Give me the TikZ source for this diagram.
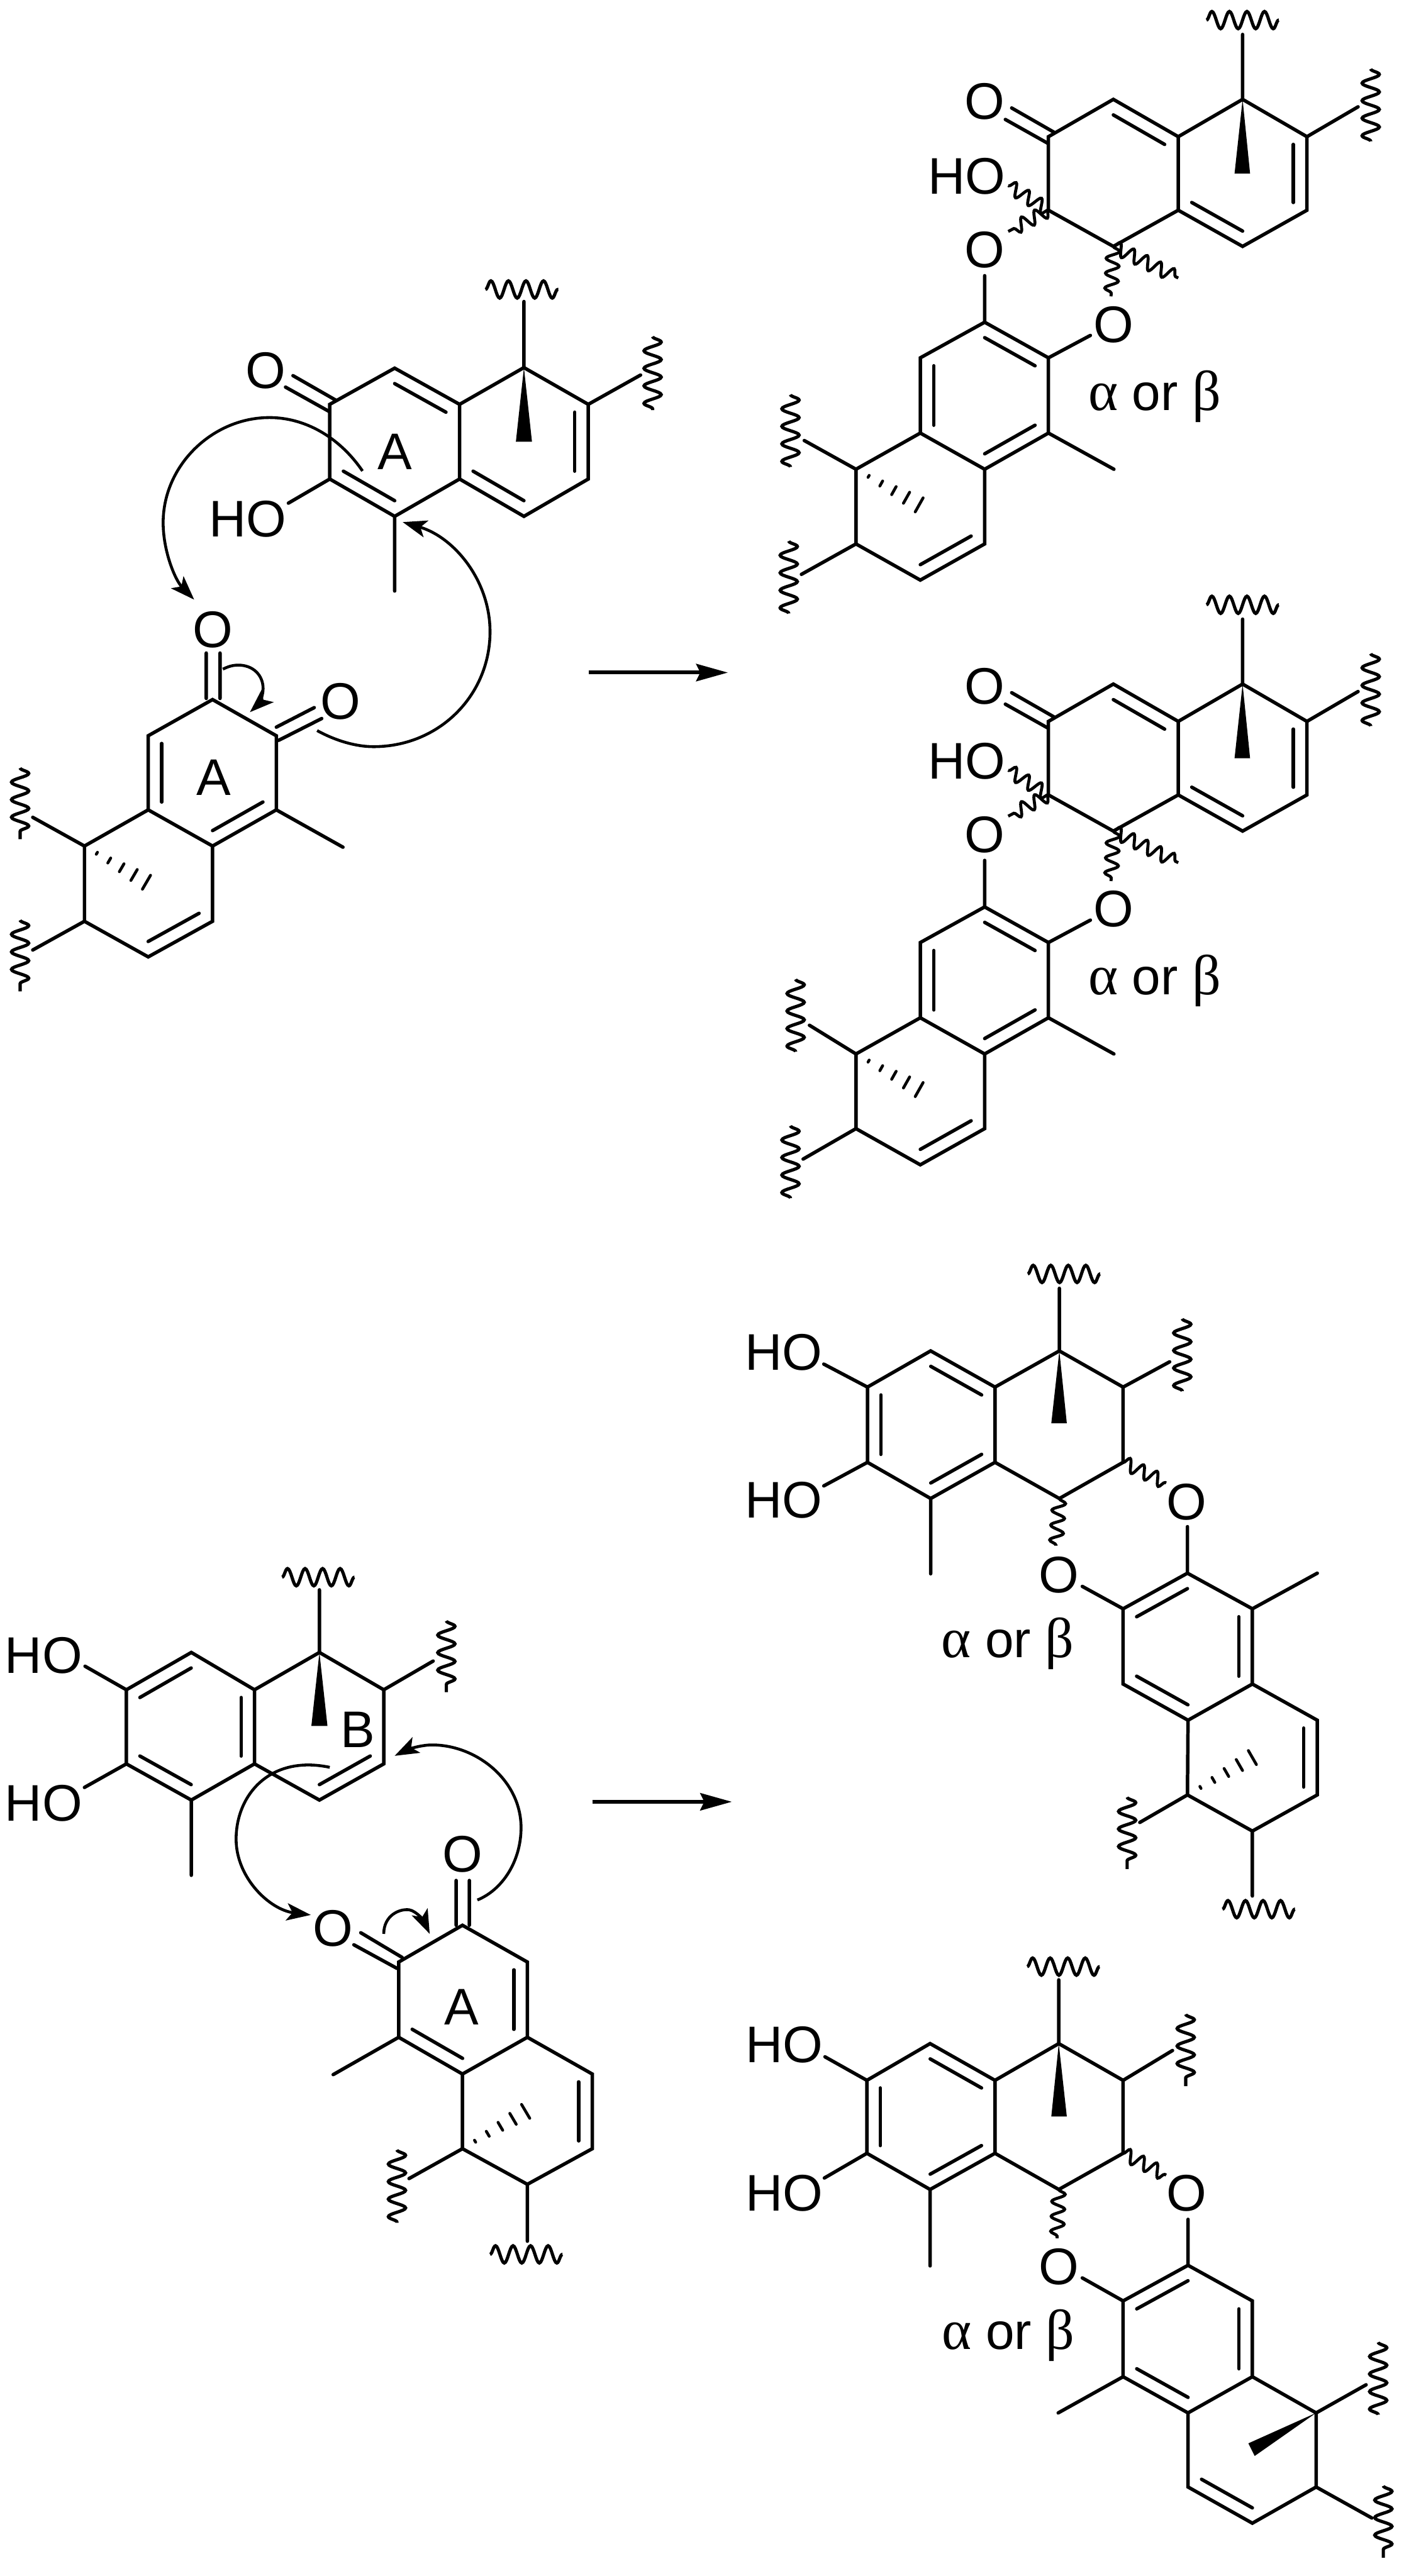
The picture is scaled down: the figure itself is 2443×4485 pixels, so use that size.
\documentclass[tikz,border=0pt]{standalone}
\usepackage{fontspec}
\setmainfont{Liberation Sans}
\newfontfamily\greekfont{Liberation Serif}
\usetikzlibrary{calc,arrows.meta,decorations.pathmorphing}
\tikzset{
  bond/.style={line width=0.06cm,line cap=round,line join=miter},
  atom/.style={inner sep=0pt,font=\fontsize{25.5}{30}\selectfont},
  wavy/.style={line width=0.056cm,decorate,decoration={snake,segment length=0.305cm,amplitude=0.15cm}},
  shortwavy/.style={line width=0.052cm,decorate,decoration={snake,segment length=0.26cm,amplitude=0.115cm}},
  pusher/.style={line width=0.05cm,-{Stealth[length=0.42cm,width=0.3cm,inset=0.1cm]}},
  yields/.style={line width=0.065cm,-{Stealth[length=0.55cm,width=0.3cm,inset=0.07cm]}},
}
\newcommand{\innerbond}[3]{\draw[bond] ($(#1)!0.21!(#3)$) -- ($(#2)!0.21!(#3)$);}
\newcommand{\hashbond}[2]{%
  \foreach \t/\w in {0.2/0.02cm,0.4/0.05cm,0.6/0.08cm,0.8/0.11cm,1/0.14cm}
    \draw[bond,line width=0.05cm] ($(#1)!\t!(#2)!\w!90:(#1)$) -- ($(#1)!\t!(#2)!\w!-90:(#1)$);}
\newcommand{\greeklabel}{{\greekfont\fontsize{28}{30}\selectfont α} or {\greekfont\fontsize{28}{30}\selectfont β}}
\begin{document}
\begin{tikzpicture}[x=0.01cm,y=-0.01cm]
  \useasboundingbox (0,0) rectangle (2443,4485);

  % top reaction, upper partner
  \foreach \n/\x/\y in {ua/574/704,ub/687/641,uc/800/704,ud/800/834,ue/687/899,uf/574/834,uA/687/769,
      ug/912/640,ui/1024/704,uj/1024/834,uh/912/899,uB/912/769,
      uo1/510/654,uo2/497/674,ua1/585/697,ua2/574/717,uoh/502/876,ume/687/1029,
      utop/912/525,utw1/845/504,utw2/972/504,usub/1115/653,usw1/1136/586,usw2/1136/714,
      uw1/898/769,uw2/926/769}
    \coordinate (\n) at (\x,\y);
  \draw[bond] (ua)--(ub)--(uc)--(ud)--(ue)--(uf)--cycle (uc)--(ug)--(ui)--(uj)--(uh)--(ud);
  \draw[bond] (ug)--(utop) (ui)--(usub) (uf)--(uoh) (ue)--(ume) (uo1)--(ua1) (uo2)--(ua2);
  \innerbond{ub}{uc}{uA} \innerbond{ue}{uf}{uA} \innerbond{ud}{uh}{uB} \innerbond{ui}{uj}{uB}
  \fill (ug)--(uw1)--(uw2)--cycle;
  \draw[wavy] (utw1)--(utw2);
  \draw[wavy] (usw1)--(usw2);
  \node[atom] (uO) at (462,645) {O};
  \node[atom] (uHO) at (431,904) {HO};
  \node[atom] (uL) at (687,787) {A};

  % top reaction, lower partner
  \foreach \n/\x/\y in {la/370/1218,lb/481/1281,lc/481/1410,ld/370/1473,le/258/1410,lf/258/1281,lA/370/1345,
      lg/147/1473,lh/147/1604,li/258/1666,lj/370/1604,lB/258/1538,
      lo1/359/1137,lo2/383/1137,la1/359/1216,la2/383/1216,
      lo3/547/1232,lo4/560/1251,lb1/481/1266,lb2/485/1289,
      lme/597/1475,lsub1/57/1423,lsw1/35/1337,lsw2/35/1461,lsub2/57/1654,lsx1/35/1602,lsx2/35/1726,lhash/255/1536}
    \coordinate (\n) at (\x,\y);
  \draw[bond] (la)--(lb)--(lc)--(ld)--(le)--(lf)--cycle (le)--(lg)--(lh)--(li)--(lj)--(ld);
  \draw[bond] (lo1)--(la1) (lo2)--(la2) (lo3)--(lb1) (lo4)--(lb2) (lc)--(lme) (lg)--(lsub1) (lh)--(lsub2);
  \innerbond{le}{lf}{lA} \innerbond{lc}{ld}{lA} \innerbond{li}{lj}{lB}
  \hashbond{lg}{lhash}
  \draw[wavy] (lsw1)--(lsw2);
  \draw[wavy] (lsx1)--(lsx2);
  \node[atom] (lO1) at (370,1096) {O};
  \node[atom] (lO2) at (593,1221) {O};
  \node[atom] (lL) at (372,1354) {A};

  \draw[pusher] (631,820) .. controls (590,760) and (530,727) .. (469,727) .. controls (370,727) and (284,810) .. (284,910) .. controls (284,960) and (305,1010) .. (338,1044);
  \draw[pusher] (552,1272) .. controls (585,1290) and (620,1300) .. (650,1300) .. controls (765,1300) and (853,1210) .. (853,1100) .. controls (853,1010) and (790,935) .. (701,909);
  \draw[pusher] (388,1165) .. controls (400,1159) and (408,1158) .. (415,1158) .. controls (440,1158) and (458,1175) .. (458,1199) .. controls (458,1215) and (448,1228) .. (435,1240);
  \coordinate (ys1) at (1025,1171);
  \coordinate (ye1) at (1267,1171);
  \draw[yields] (ys1)--(ye1);

  % the two products of the top reaction
  \foreach \dy/\pre/\dxa/\dxb in {0/p/0/0,1018/q/9/3}{
  \begin{scope}[shift={(0,\dy)}]
    \foreach \n/\x/\y in {c1/1938/173,c2/2051/238,c3/2051/366,c4/1938/429,c5/1825/366,c6/1825/238,cA/1938/302,
        g/2163/173,i/2275/238,j/2275/366,h/2163/429,gB/2163/302,
        top/2163/60,tw1/2100/35,tw2/2226/35,sub/2364/186,sw1/2386/120,sw2/2386/246,w1/2149/302,w2/2176/302,
        o1/1761/188,o2/1750/208,a1/1836/231,a2/1823/249,
        wh/1755/323,wo/1755/403,wm/2051/484,wp/1934/516,
        d1/1714/561,d2/1825/623,d3/1825/754,d4/1714/817,d5/1602/754,d6/1602/623,dA/1714/689,
        e1/1490/817,e2/1490/947,e3/1602/1010,e4/1714/947,eB/1602/882,
        b1/1714/480,b2/1898/584,me/1939/817,hash/1600/879}
      \coordinate (\pre\n) at (\x,\y);
    \coordinate (\pre sub1) at ({1400+\dxa},767);
    \coordinate (\pre sv1) at ({1376+\dxa},687);
    \coordinate (\pre sv2) at ({1376+\dxa},813);
    \coordinate (\pre sub2) at ({1395+\dxb},1000);
    \coordinate (\pre sx1) at ({1373+\dxb},942);
    \coordinate (\pre sx2) at ({1373+\dxb},1068);
    \draw[bond] (\pre c1)--(\pre c2)--(\pre c3)--(\pre c4)--(\pre c5)--(\pre c6)--cycle (\pre c2)--(\pre g)--(\pre i)--(\pre j)--(\pre h)--(\pre c3);
    \draw[bond] (\pre d1)--(\pre d2)--(\pre d3)--(\pre d4)--(\pre d5)--(\pre d6)--cycle (\pre d5)--(\pre e1)--(\pre e2)--(\pre e3)--(\pre e4)--(\pre d4);
    \draw[bond] (\pre g)--(\pre top) (\pre i)--(\pre sub) (\pre o1)--(\pre a1) (\pre o2)--(\pre a2) (\pre d1)--(\pre b1) (\pre d2)--(\pre b2) (\pre d3)--(\pre me) (\pre e1)--(\pre sub1) (\pre e2)--(\pre sub2);
    \innerbond{\pre c1}{\pre c2}{\pre cA} \innerbond{\pre c3}{\pre h}{\pre gB} \innerbond{\pre i}{\pre j}{\pre gB}
    \innerbond{\pre d1}{\pre d2}{\pre dA} \innerbond{\pre d3}{\pre d4}{\pre dA} \innerbond{\pre d5}{\pre d6}{\pre dA} \innerbond{\pre e3}{\pre e4}{\pre eB}
    \fill (\pre g)--(\pre w1)--(\pre w2)--cycle;
    \hashbond{\pre e1}{\pre hash}
    \draw[wavy] (\pre tw1)--(\pre tw2);
    \draw[wavy] (\pre sw1)--(\pre sw2);
    \draw[wavy] (\pre sv1)--(\pre sv2);
    \draw[wavy] (\pre sx1)--(\pre sx2);
    \draw[shortwavy] (\pre c5)--(\pre wh);
    \draw[shortwavy] (\pre c5)--(\pre wo);
    \draw[shortwavy] (\pre c4)--(\pre wm);
    \draw[shortwavy] (\pre c4)--(\pre wp);
    \node[atom] (\pre O1) at (1714,177) {O};
    \node[atom] (\pre HO) at (1683,307) {HO};
    \node[atom] (\pre O2) at (1714,435) {O};
    \node[atom] (\pre O3) at (1938,565) {O};
    \node[atom,anchor=base] (\pre lab) at (2010,714) {\greeklabel};
  \end{scope}
  }

  % bottom reaction, upper partner
  \foreach \n/\x/\y in {ra/220/2942,rb/333/2877,rc/443/2942,rd/443/3071,re/333/3134,rf/220/3071,rA/332/3006,
      sg/556/2877,sb/668/2942,sc/668/3071,sd/556/3134,sB/556/3006,
      rh1/148/2901,rh2/147/3112,rme/333/3265,stop/556/2768,stw1/491/2746,stw2/617/2746,
      ssub/754/2892,ssw1/777/2822,ssw2/777/2946,sw1/542/3005,sw2/570/3005}
    \coordinate (\n) at (\x,\y);
  \draw[bond] (ra)--(rb)--(rc)--(rd)--(re)--(rf)--cycle (rc)--(sg)--(sb)--(sc)--(sd)--(rd);
  \draw[bond] (ra)--(rh1) (rf)--(rh2) (re)--(rme) (sg)--(stop) (sb)--(ssub);
  \innerbond{ra}{rb}{rA} \innerbond{rc}{rd}{rA} \innerbond{re}{rf}{rA} \innerbond{sc}{sd}{sB}
  \fill (sg)--(sw1)--(sw2)--cycle;
  \draw[wavy] (stw1)--(stw2);
  \draw[wavy] (ssw1)--(ssw2);
  \node[atom] (rHO1) at (76,2882) {HO};
  \node[atom] (rHO2) at (76,3140) {HO};
  \node[atom] (sL) at (623,3011) {B};

  % bottom reaction, lower partner
  \foreach \n/\x/\y in {ta/805/3352,tb/918/3416,tc/918/3547,td/805/3611,te/694/3547,tf/694/3416,tA/806/3481,
      ug1/1031/3611,ug2/1031/3741,ug3/918/3803,ug4/805/3741,uC/918/3676,
      to1/794/3274,to2/817/3274,tc1/794/3352,tc2/817/3352,
      to3/628/3365,to4/616/3386,tf1/700/3408,tf2/691/3427,tme/580/3612,
      tsub/712/3793,tsw1/691/3743,tsw2/691/3870,tdn/918/3902,tdw1/853/3925,tdw2/979/3925,thash/915/3676}
    \coordinate (\n) at (\x,\y);
  \draw[bond] (ta)--(tb)--(tc)--(td)--(te)--(tf)--cycle (tc)--(ug1)--(ug2)--(ug3)--(ug4)--(td);
  \draw[bond] (to1)--(tc1) (to2)--(tc2) (to3)--(tf1) (to4)--(tf2) (te)--(tme) (ug4)--(tsub) (ug3)--(tdn);
  \innerbond{tb}{tc}{tA} \innerbond{td}{te}{tA} \innerbond{ug1}{ug2}{uC}
  \hashbond{ug4}{thash}
  \draw[wavy] (tsw1)--(tsw2);
  \draw[wavy] (tdw1)--(tdw2);
  \node[atom] (tO1) at (805,3228) {O};
  \node[atom] (tO2) at (580,3357) {O};
  \node[atom] (tL) at (803,3494) {A};

  \draw[pusher] (574,3077) .. controls (470,3055) and (411,3125) .. (411,3202) .. controls (411,3270) and (470,3325) .. (541,3334);
  \draw[pusher] (831,3308) .. controls (875,3290) and (907,3240) .. (907,3182) .. controls (907,3100) and (830,3038) .. (752,3038) .. controls (730,3038) and (705,3048) .. (687,3057);
  \draw[pusher] (668,3367) .. controls (668,3335) and (695,3323) .. (712,3325) .. controls (725,3327) and (738,3345) .. (748,3367);
  \coordinate (ys2) at (1031,3137);
  \coordinate (ye2) at (1274,3137);
  \draw[yields] (ys2)--(ye2);

  % bottom reaction, first product
  \foreach \n/\x/\y in {va/1510/2415,vb/1620/2352,vc/1732/2415,vd/1732/2546,ve/1620/2609,vf/1510/2546,vA/1621/2480,
      wg/1844/2352,wb/1955/2415,wc/1955/2546,wd/1844/2609,
      vh1/1434/2375,vh2/1434/2587,vme/1620/2740,wtop/1844/2243,wtw1/1789/2218,wtw2/1915/2218,
      wsub/2036/2371,wsw1/2058/2296,wsw2/2058/2422,ww1/1830/2478,ww2/1857/2478,wo1/2030/2582,wo2/1838/2691,
      xa/2067/2739,xb/2180/2801,xc/2180/2932,xd/2068/2995,xe/1955/2932,xf/1955/2801,xA/2067/2867,
      ya/2293/2995,yb/2293/3125,yc/2180/3188,yd/2067/3125,yB/2180/3060,
      xo1/2067/2658,xo2/1884/2762,xme/2293/2739,ysub1/1984/3173,ysw1/1962/3129,ysw2/1962/3254,
      ysub2/2180/3301,ydw1/2128/3324,ydw2/2254/3324,yhash/2180/3060}
    \coordinate (\n) at (\x,\y);
  \draw[bond] (va)--(vb)--(vc)--(vd)--(ve)--(vf)--cycle (vc)--(wg)--(wb)--(wc)--(wd)--(vd);
  \draw[bond] (xa)--(xb)--(xc)--(xd)--(xe)--(xf)--cycle (xc)--(ya)--(yb)--(yc)--(yd)--(xd);
  \draw[bond] (va)--(vh1) (vf)--(vh2) (ve)--(vme) (wg)--(wtop) (wb)--(wsub) (xa)--(xo1) (xf)--(xo2) (xb)--(xme) (yd)--(ysub1) (yc)--(ysub2);
  \innerbond{va}{vf}{vA} \innerbond{vb}{vc}{vA} \innerbond{vd}{ve}{vA}
  \innerbond{xa}{xf}{xA} \innerbond{xb}{xc}{xA} \innerbond{xd}{xe}{xA} \innerbond{ya}{yb}{yB}
  \fill (wg)--(ww1)--(ww2)--cycle;
  \hashbond{yd}{yhash}
  \draw[wavy] (wtw1)--(wtw2);
  \draw[wavy] (wsw1)--(wsw2);
  \draw[wavy] (ysw1)--(ysw2);
  \draw[wavy] (ydw1)--(ydw2);
  \draw[shortwavy] (wc)--(wo1);
  \draw[shortwavy] (wd)--(wo2);
  \node[atom] (vHO1) at (1364,2354) {HO};
  \node[atom] (vHO2) at (1364,2612) {HO};
  \node[atom] (xO1) at (2066,2615) {O};
  \node[atom] (xO2) at (1843,2742) {O};
  \node[atom,anchor=base] (xlab) at (1754,2886) {\greeklabel};

  % bottom reaction, second product
  \foreach \n/\x/\y in {za/1509/3622,zb/1619/3558,zc/1732/3622,zd/1732/3749,ze/1619/3812,zf/1509/3749,zA/1620/3685,
      ng/1843/3558,nb/1955/3622,nc/1955/3749,nd/1843/3812,
      zh1/1436/3581,zh2/1435/3792,zme/1619/3945,ntop/1843/3447,ntw1/1788/3424,ntw2/1914/3424,
      nsub/2041/3570,nsw1/2064/3507,nsw2/2064/3632,nw1/1830/3685,nw2/1857/3685,no1/2030/3787,no2/1840/3897,
      ba/2068/3944,bb/2180/4006,bc/2180/4138,bd/2068/4201,be/1955/4138,bf/1955/4006,bA/2068/4072,
      fa/2291/4201,fb/2291/4330,fc/2180/4393,fd/2068/4330,fB/2180/4266,
      bo1/2068/3864,bo2/1884/3966,bme/1842/4201,
      fsub1/2378/4152,fsw1/2399/4078,fsw2/2399/4204,fsub2/2388/4384,fsx1/2408/4328,fsx2/2408/4453,
      fw1/2173/4254,fw2/2184/4276}
    \coordinate (\n) at (\x,\y);
  \draw[bond] (za)--(zb)--(zc)--(zd)--(ze)--(zf)--cycle (zc)--(ng)--(nb)--(nc)--(nd)--(zd);
  \draw[bond] (ba)--(bb)--(bc)--(bd)--(be)--(bf)--cycle (bc)--(fa)--(fb)--(fc)--(fd)--(bd);
  \draw[bond] (za)--(zh1) (zf)--(zh2) (ze)--(zme) (ng)--(ntop) (nb)--(nsub) (ba)--(bo1) (bf)--(bo2) (be)--(bme) (fa)--(fsub1) (fb)--(fsub2);
  \innerbond{za}{zf}{zA} \innerbond{zb}{zc}{zA} \innerbond{zd}{ze}{zA}
  \innerbond{ba}{bf}{bA} \innerbond{bb}{bc}{bA} \innerbond{bd}{be}{bA} \innerbond{fc}{fd}{fB}
  \fill (ng)--(nw1)--(nw2)--cycle;
  \fill (fa)--(fw1)--(fw2)--cycle;
  \draw[wavy] (ntw1)--(ntw2);
  \draw[wavy] (nsw1)--(nsw2);
  \draw[wavy] (fsw1)--(fsw2);
  \draw[wavy] (fsx1)--(fsx2);
  \draw[shortwavy] (nc)--(no1);
  \draw[shortwavy] (nd)--(no2);
  \node[atom] (zHO1) at (1365,3560) {HO};
  \node[atom] (zHO2) at (1365,3818) {HO};
  \node[atom] (bO1) at (2066,3818) {O};
  \node[atom] (bO2) at (1843,3947) {O};
  \node[atom,anchor=base] (blab) at (1755,4090) {\greeklabel};
\end{tikzpicture}
\end{document}
